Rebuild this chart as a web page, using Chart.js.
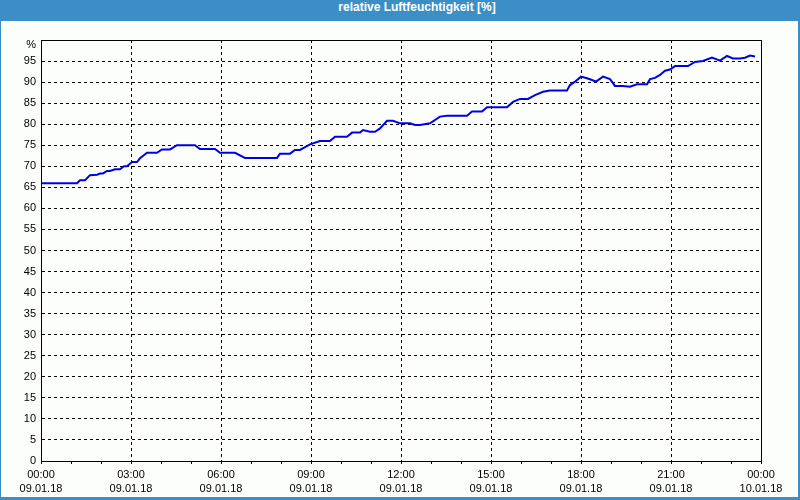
<!DOCTYPE html>
<html>
<head>
<meta charset="utf-8">
<script src="https://cdn.jsdelivr.net/npm/chart.js@4"></script>
<style>
  body { margin: 0; }
  #frame { position: relative; width: 800px; height: 500px; background: #3c8fc6; overflow: hidden; }
  #title { position: absolute; left: 0; top: 0; width: 800px; height: 21px; line-height: 20px;
           text-align: center; color: #fff; font: bold 12px "Liberation Sans", Arial, sans-serif; padding-left: 34px; box-sizing: border-box; }
  #box { position: absolute; left: 1px; top: 21px; width: 797px; height: 476px; background: #fcfefc; }
</style>
</head>
<body>
<div id="frame">
  <div id="title">relative Luftfeuchtigkeit [%]</div>
  <div id="box"><canvas id="humChart" width="797" height="476"></canvas></div>
</div>
<script>
// minutes after 09.01.18 00:00
const minutes = [0, 72, 78, 88, 98, 112, 118, 124, 132, 138, 148, 158, 166, 172, 182, 192, 198, 212, 232, 242,
  258, 272, 308, 318, 348, 358, 388, 408, 472, 478, 498, 508, 518, 538, 558, 578, 588, 612, 622, 638,
  644, 658, 668, 678, 692, 704, 718, 738, 748, 758, 778, 798, 812, 852, 862, 882, 892, 932, 944, 958,
  974, 988, 1004, 1018, 1052, 1058, 1068, 1080, 1092, 1102, 1110, 1124, 1138, 1148, 1164, 1178, 1192, 1212, 1218, 1228,
  1238, 1248, 1258, 1268, 1294, 1308, 1324, 1342, 1358, 1372, 1384, 1398, 1408, 1418, 1428];
const humidity = [66, 66, 66.7, 66.7, 67.9, 68, 68.3, 68.3, 68.9, 68.9, 69.3, 69.3, 70, 70, 71, 71, 71.9, 73.2, 73.2, 74,
  74, 75, 75, 74.1, 74.1, 73.2, 73.2, 72, 72, 73, 73, 73.9, 73.9, 75.2, 76, 76, 77, 77, 78, 78,
  78.6, 78.2, 78.2, 79, 80.8, 80.8, 80.2, 80.2, 79.8, 79.8, 80.2, 81.8, 82, 82, 83, 83, 84, 84, 85.3, 86,
  86, 86.9, 87.7, 88, 88, 89.3, 90.1, 91.3, 90.9, 90.5, 90.1, 91.3, 90.7, 89.1, 89.1, 88.9, 89.5, 89.5, 90.7, 91,
  91.7, 92.7, 93, 93.8, 93.8, 94.8, 95, 95.8, 95.1, 96.2, 95.6, 95.6, 95.8, 96.3, 96.1];

const timeLabels = ["00:00", "03:00", "06:00", "09:00", "12:00", "15:00", "18:00", "21:00", "00:00"];
const dateLabels = ["09.01.18", "09.01.18", "09.01.18", "09.01.18", "09.01.18", "09.01.18", "09.01.18", "09.01.18", "10.01.18"];

const points = minutes.map((m, i) => ({ x: m, y: humidity[i] }));

// solid frame round the plot area
const boxPlugin = {
  id: "plotBox",
  afterDraw(chart) {
    const a = chart.chartArea, ctx = chart.ctx;
    ctx.save();
    ctx.strokeStyle = "#000";
    ctx.lineWidth = 1;
    ctx.setLineDash([]);
    ctx.strokeRect(Math.round(a.left) + 0.5, Math.round(a.top) + 0.5, Math.round(a.right - a.left), Math.round(a.bottom - a.top));
    ctx.restore();
  }
};

const fam = "'Liberation Sans', Arial, sans-serif";

new Chart(document.getElementById("humChart"), {
  type: "line",
  data: {
    datasets: [{
      data: points,
      borderColor: "#0000e6",
      borderWidth: 2,
      pointRadius: 0,
      tension: 0,
      fill: false
    }]
  },
  options: {
    responsive: false,
    animation: false,
    layout: { padding: { left: 0, top: 19, right: 37, bottom: 0 } },
    plugins: { legend: { display: false }, tooltip: { enabled: false } },
    scales: {
      x: {
        type: "linear",
        min: 0,
        max: 1440,
        afterFit: (s) => { s.height = 36; },
        afterBuildTicks: (s) => { s.ticks = []; for (let v = 0; v <= 1440; v += 60) s.ticks.push({ value: v }); },
        ticks: {
          autoSkip: false,
          maxRotation: 0,
          padding: 4,
          color: "#000",
          font: { family: fam, size: 11, lineHeight: "14px" },
          callback: (v) => v % 180 === 0 ? [timeLabels[v / 180], dateLabels[v / 180]] : ""
        },
        grid: {
          color: (c) => c.tick && c.tick.value % 180 === 0 ? "#000" : "rgba(0,0,0,0)",
          tickColor: "#000",
          tickLength: 3,
          lineWidth: 1
        },
        border: { color: "#000", dash: [3, 3] }
      },
      y: {
        min: 0,
        max: 100,
        afterFit: (s) => { s.width = 40; },
        ticks: {
          stepSize: 5,
          autoSkip: false,
          padding: 5,
          color: "#000",
          font: { family: fam, size: 11, lineHeight: "10px" },
          // the unit sits a little below the top line
          callback: (v) => v === 100 ? ["", "%"] : v
        },
        grid: { color: "#000", drawTicks: false, lineWidth: 1 },
        border: { color: "#000", dash: [3, 3] }
      }
    }
  },
  plugins: [boxPlugin]
});
</script>
</body>
</html>
